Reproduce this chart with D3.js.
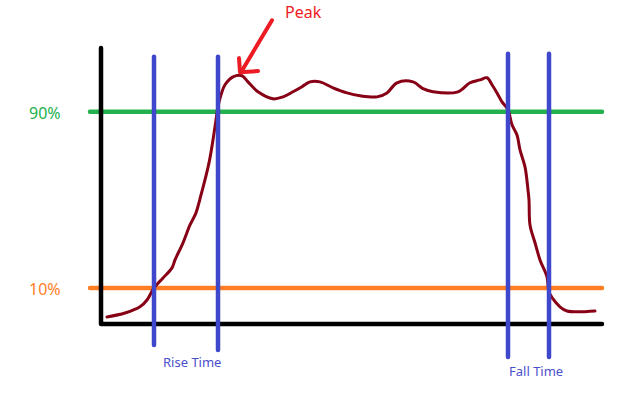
<!DOCTYPE html>
<html>
<head>
<meta charset="utf-8">
<script src="https://cdn.jsdelivr.net/npm/d3@7"></script>
<style>
  body { margin: 0; background: #fff; }
  text { font-family: "Noto Sans", "Open Sans", sans-serif; }
</style>
</head>
<body>
<script>
// pulse signal, time (t) vs percent of steady-state amplitude
const signalT = [6, 24, 39, 46, 53, 62, 71, 74, 82, 89, 95, 99, 108, 114, 117, 120, 124, 132, 141,
  147, 157, 172, 182, 192, 201, 209, 219, 232, 246, 259, 276, 286, 296, 312, 322, 332, 357, 369,
  379, 386, 391, 396, 401, 407, 411, 416, 419, 424, 427, 428, 429, 434, 439, 446, 448, 452, 459, 466, 494];
const signalPct = [-3.2, -1.4, 1.4, 4.5, 10, 14.5, 19.1, 22.7, 30.5, 38.6, 44.1, 50.5, 66.8, 83.2, 92.3,
  97.7, 102.3, 105.9, 106.4, 103.6, 99.1, 95.9, 96.8, 99.1, 101.4, 103.6, 103.6, 100.9, 98.6, 97.3,
  96.8, 98.6, 103.2, 103.6, 100.5, 99.1, 99.1, 103.2, 104.5, 105.5, 102.3, 98.6, 94.5, 90.9, 84.1,
  79.5, 72.7, 65, 54.5, 50, 38.6, 30.5, 22.7, 15, 8.2, 5, 1.4, -0.5, -0.5];

const levels = [90, 10];
const levelLabels = ["90%", "10%"];
const levelColors = ["#22b14c", "#ff7f27"];

const markerT = [53, 117, 407, 448];       // rise start, rise end, fall start, fall end
const periodLabels = ["Rise Time", "Fall Time"];

const peakT = 139, peakPct = 108;

const width = 619, height = 403;

const svg = d3.select("body")
    .append("svg")
    .attr("width", width)
    .attr("height", height);

const x = d3.scaleLinear().domain([0, 501]).range([101, 602]);
const y = d3.scaleLinear().domain([-6.4, 119]).range([324, 48]);

// threshold lines
svg.selectAll(".level")
    .data(levels)
    .enter()
    .append("line")
    .attr("x1", x(-11))
    .attr("x2", x(501))
    .attr("y1", d => y(d))
    .attr("y2", d => y(d))
    .attr("stroke", (d, i) => levelColors[i])
    .attr("stroke-width", 4.5)
    .attr("stroke-linecap", "round");

svg.selectAll(".level-label")
    .data(levels)
    .enter()
    .append("text")
    .attr("x", 29)
    .attr("y", d => y(d) + 7)
    .attr("font-size", 16)
    .attr("fill", (d, i) => levelColors[i])
    .text((d, i) => levelLabels[i]);

// axes drawn as an L
svg.append("path")
    .attr("d", d3.line()([[x(0), y(119)], [x(0), y(-6.4)], [x(501), y(-6.4)]]))
    .attr("fill", "none")
    .attr("stroke", "#000")
    .attr("stroke-width", 4.5)
    .attr("stroke-linecap", "round")
    .attr("stroke-linejoin", "round");

// signal
const line = d3.line()
    .x(d => x(d[0]))
    .y(d => y(d[1]))
    .curve(d3.curveCatmullRom.alpha(0.5));

svg.append("path")
    .attr("d", line(signalT.map((t, i) => [t, signalPct[i]])))
    .attr("fill", "none")
    .attr("stroke", "#880015")
    .attr("stroke-width", 3)
    .attr("stroke-linejoin", "round")
    .attr("stroke-linecap", "round");

// time markers
const markerTop = [115, 115, 116.4, 116.4];
const markerBottom = [-15.9, -18.2, -21.4, -21.4];

svg.selectAll(".marker")
    .data(markerT)
    .enter()
    .append("line")
    .attr("x1", d => x(d))
    .attr("x2", d => x(d))
    .attr("y1", (d, i) => y(markerTop[i]))
    .attr("y2", (d, i) => y(markerBottom[i]))
    .attr("stroke", "#3f48cc")
    .attr("stroke-width", 4.5)
    .attr("stroke-linecap", "round");

svg.selectAll(".period-label")
    .data(periodLabels)
    .enter()
    .append("text")
    .attr("x", (d, i) => x(markerT[i * 2]) + (i === 0 ? 9 : 1))
    .attr("y", (d, i) => i === 0 ? 367 : 376)
    .attr("font-size", 13)
    .attr("fill", "#4a50cc")
    .text(d => d);

// peak annotation
const red = "#ed1c24";
svg.append("line")
    .attr("x1", x(peakT + 32)).attr("y1", y(peakPct + 23.6))
    .attr("x2", x(peakT + 1)).attr("y2", y(peakPct))
    .attr("stroke", red)
    .attr("stroke-width", 4)
    .attr("stroke-linecap", "round");

svg.append("path")
    .attr("d", d3.line()([
        [x(peakT - 1), y(peakPct + 6.4)],
        [x(peakT), y(peakPct)],
        [x(peakT + 18), y(peakPct + 0.5)]
    ]))
    .attr("fill", "none")
    .attr("stroke", red)
    .attr("stroke-width", 4)
    .attr("stroke-linecap", "round")
    .attr("stroke-linejoin", "round");

svg.append("text")
    .attr("x", 285)
    .attr("y", 18)
    .attr("font-size", 16)
    .attr("fill", red)
    .text("Peak");
</script>
</body>
</html>
